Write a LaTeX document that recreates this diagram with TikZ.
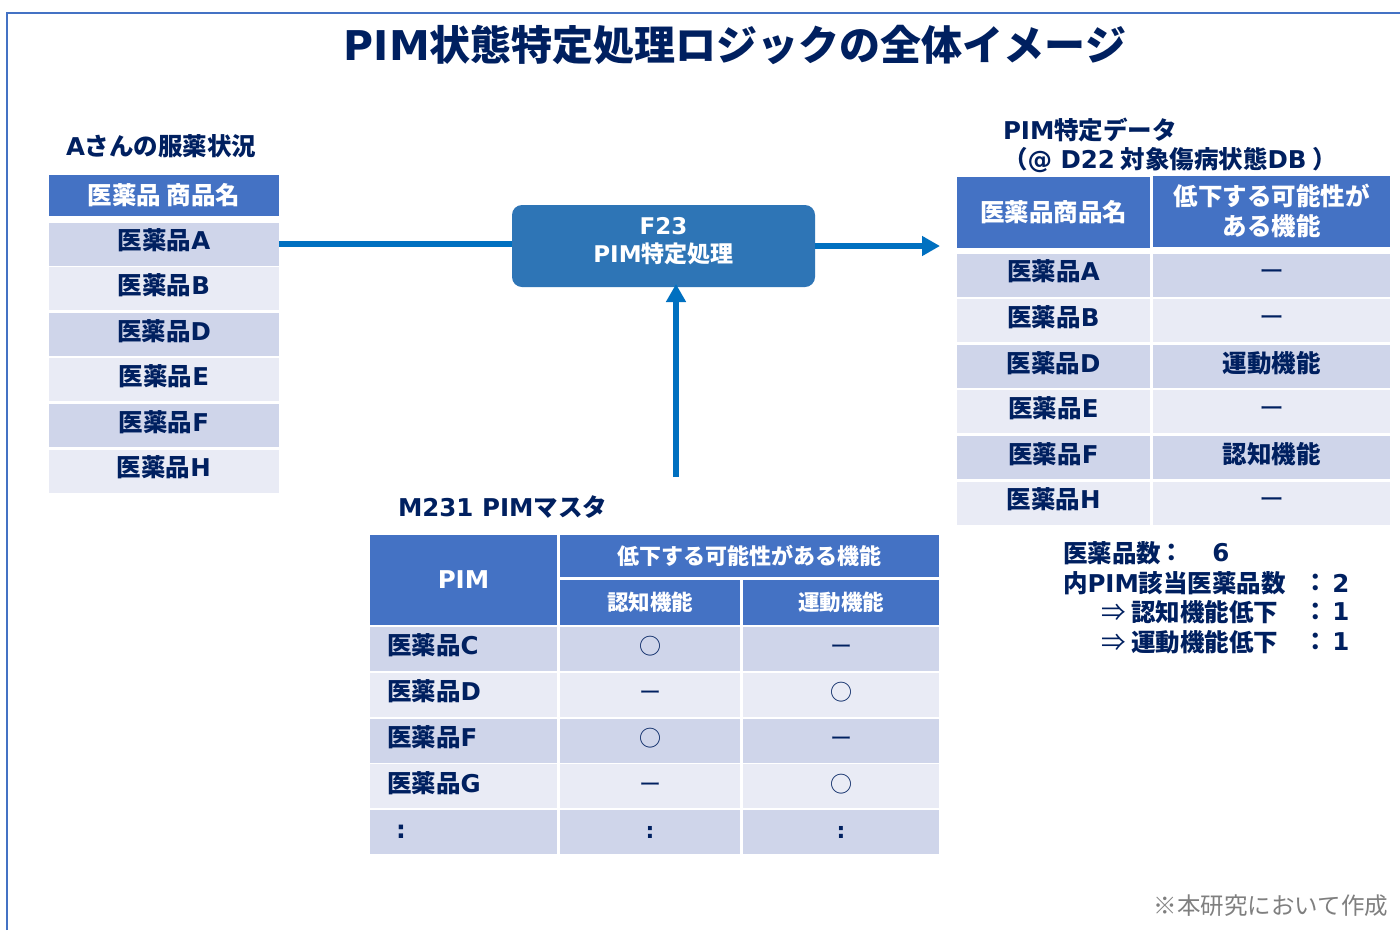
\documentclass[tikz,border=0pt]{standalone}
\usepackage{fontspec}
\setmainfont{Noto Sans CJK JP}
\newfontfamily\latf{DejaVu Sans}
\newcommand{\La}[1]{{\latf #1}}
\usetikzlibrary{arrows.meta}
\definecolor{navy}{HTML}{002060}
\definecolor{hblue}{HTML}{4472C4}
\definecolor{rdark}{HTML}{CFD5EA}
\definecolor{rlight}{HTML}{E9EBF5}
\definecolor{boxblue}{HTML}{2E75B6}
\definecolor{ablue}{HTML}{0070C0}
\definecolor{notegray}{HTML}{7F7F7F}
\begin{document}
\begin{tikzpicture}[x=1pt,y=-1pt,
  every node/.style={inner sep=0pt, outer sep=0pt},
  tx/.style={text=navy, font=\bfseries\fontsize{24.5}{29}\selectfont},
  hdr/.style={fill=hblue, text=white, font=\bfseries\fontsize{24.5}{30}\selectfont, align=center},
  cellpos/.style={text height=20pt, text depth=8.4pt},
  dk/.style={fill=rdark, tx, cellpos},
  lt/.style={fill=rlight, tx, cellpos},
  lcell/.style={minimum width=230pt, minimum height=43pt},
  rc1/.style={minimum width=193pt, minimum height=43pt},
  rc2/.style={minimum width=237pt, minimum height=43pt},
  dashcell/.style={font=\fontsize{25}{28}\selectfont},
  mc1/.style={minimum height=44pt, text width=153pt, inner xsep=17pt, align=left},
  mc2/.style={minimum width=180pt, minimum height=44pt, font=\fontsize{22}{26}\selectfont},
  mc3/.style={minimum width=196pt, minimum height=44pt, font=\fontsize{22}{26}\selectfont},
  conn/.style={draw=ablue, line width=5.5pt},
  arr/.style={conn, -{Triangle[length=18pt,width=19pt]}}]
\useasboundingbox (0,0) rectangle (1400,930);
\fill[white] (0,0) rectangle (1400,930);
\draw[hblue, line width=1.5pt] (7,930) -- (7,13) -- (1400,13);
% title
\node[text=navy, font=\bfseries\fontsize{41}{48}\selectfont] (title) at (735,45) {\La{PIM}状態特定処理ロジックの全体イメージ};
% left table
\node[tx, anchor=west] (lcap) at (66,146) {\La{A}さんの服薬状況};
\node[hdr, minimum width=230pt, minimum height=41pt] (lh) at (164,195.5) {医薬品 商品名};
\node[dk, lcell] (lA) at (164,244) {医薬品\La{A}};
\node[lt, lcell] (lB) at (164,288.6) {医薬品\La{B}};
\node[dk, lcell] (lD) at (164,334.2) {医薬品\La{D}};
\node[lt, lcell] (lE) at (164,379.8) {医薬品\La{E}};
\node[dk, lcell] (lF) at (164,425.4) {医薬品\La{F}};
\node[lt, lcell] (lH) at (164,471) {医薬品\La{H}};
% process box
\node[fill=boxblue, rounded corners=10pt, minimum width=303pt, minimum height=82pt,
  label={[text=white, font=\bfseries\fontsize{23}{28}\selectfont, align=center, yshift=5pt]center:\La{F23}\\\La{PIM}特定処理}] (f23) at (663.5,246) {};
\coordinate (rtip) at (940,246);
\coordinate (vstart) at (676,477);
\draw[conn] (lA.east) -- (lA.east -| f23.west);
\draw[arr] (f23.east) -- (rtip);
\draw[arr, shorten >=-3pt] (vstart) -- (vstart |- f23.south);
% right table
\node[tx, anchor=west] (rcap1) at (1003,130) {\La{PIM}特定データ};
\node[tx, anchor=west] (rcap2) at (1003,160) {（\La{@ D22} 対象傷病状態\La{DB} ）};
\node[hdr, minimum width=193pt, minimum height=71pt] (rh1) at (1053.5,212.5) {医薬品商品名};
\node[hdr, minimum width=237pt, minimum height=71pt] (rh2) at (1271.5,211) {低下する可能性が\\ある機能};
\node[dk, rc1] (rA1) at (1053.5,275) {医薬品\La{A}};
\node[dk, rc2, dashcell] (rA2) at (1271.5,275) {ー};
\node[lt, rc1] (rB1) at (1053.5,320.6) {医薬品\La{B}};
\node[lt, rc2, dashcell] (rB2) at (1271.5,320.6) {ー};
\node[dk, rc1] (rD1) at (1053.5,366.2) {医薬品\La{D}};
\node[dk, rc2] (rD2) at (1271.5,366.2) {運動機能};
\node[lt, rc1] (rE1) at (1053.5,411.8) {医薬品\La{E}};
\node[lt, rc2, dashcell] (rE2) at (1271.5,411.8) {ー};
\node[dk, rc1] (rF1) at (1053.5,457.4) {医薬品\La{F}};
\node[dk, rc2] (rF2) at (1271.5,457.4) {認知機能};
\node[lt, rc1] (rH1) at (1053.5,503) {医薬品\La{H}};
\node[lt, rc2, dashcell] (rH2) at (1271.5,503) {ー};
% middle table
\node[tx, anchor=west] (mcap) at (398,507) {\La{M231 PIM}マスタ};
\node[hdr, minimum width=187pt, minimum height=90pt] (mh1) at (463.5,580) {\La{PIM}};
\node[hdr, minimum width=379pt, minimum height=42pt, font=\bfseries\fontsize{22}{26}\selectfont] (mh2) at (749.5,556) {低下する可能性がある機能};
\node[hdr, minimum width=180pt, minimum height=45pt, font=\bfseries\fontsize{21.5}{26}\selectfont] (mh3) at (650,602.5) {認知機能};
\node[hdr, minimum width=196pt, minimum height=45pt, font=\bfseries\fontsize{21.5}{26}\selectfont] (mh4) at (841,602.5) {運動機能};
\node[dk, mc1] (mC1) at (463.5,649) {医薬品\La{C}};
\node[dk, mc2] (mC2) at (650,649) {○};
\node[dk, mc3] (mC3) at (841,649) {ー};
\node[lt, mc1] (mD1) at (463.5,694.8) {医薬品\La{D}};
\node[lt, mc2] (mD2) at (650,694.8) {ー};
\node[lt, mc3] (mD3) at (841,694.8) {○};
\node[dk, mc1] (mF1) at (463.5,740.6) {医薬品\La{F}};
\node[dk, mc2] (mF2) at (650,740.6) {○};
\node[dk, mc3] (mF3) at (841,740.6) {ー};
\node[lt, mc1] (mG1) at (463.5,786.4) {医薬品\La{G}};
\node[lt, mc2] (mG2) at (650,786.4) {ー};
\node[lt, mc3] (mG3) at (841,786.4) {○};
\node[dk, mc1, inner xsep=26pt, text width=135pt] (mX1) at (463.5,832.2) {\La{:}};
\node[dk, mc2] (mX2) at (650,832.2) {\bfseries\La{:}};
\node[dk, mc3] (mX3) at (841,832.2) {\bfseries\La{:}};
% notes
\node[tx, anchor=west] (n1) at (1063,553) {医薬品数};
\node[tx] (n1c) at (1172,553) {：};
\node[tx] (n1v) at (1221,553) {\La{6}};
\node[tx, anchor=west] (n2) at (1063,583) {内\La{PIM}該当医薬品数};
\node[tx] (n2c) at (1316,583) {：};
\node[tx] (n2v) at (1341,583) {\La{2}};
\node[tx, anchor=west] (n3) at (1101,612) {{\mdseries ⇒} 認知機能低下};
\node[tx] (n3c) at (1316,612) {：};
\node[tx] (n3v) at (1341,612) {\La{1}};
\node[tx, anchor=west] (n4) at (1101,642) {{\mdseries ⇒} 運動機能低下};
\node[tx] (n4c) at (1316,642) {：};
\node[tx] (n4v) at (1341,642) {\La{1}};
% footnote
\node[text=notegray, font=\fontsize{23.5}{28}\selectfont, anchor=east] (foot) at (1388,906) {※本研究において作成};
\end{tikzpicture}
\end{document}
